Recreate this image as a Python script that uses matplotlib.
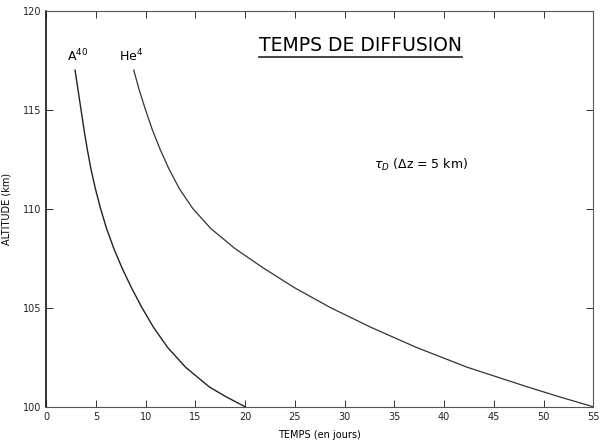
import numpy as np
import matplotlib
matplotlib.use("Agg")
import matplotlib.pyplot as plt
from matplotlib.lines import Line2D

# values: altitude (km) and temps (jours)
altitude = [117, 116, 115, 114, 113, 112, 111, 110, 109, 108, 107, 106, 105, 104, 103, 102, 101, 100.5, 100]
argon_t = [2.9, 3.2, 3.5, 3.8, 4.13, 4.5, 4.95, 5.47, 6.07, 6.79, 7.63, 8.58, 9.63, 10.8,
           12.2, 14.0, 16.4, 18.1, 20.0]
helium_t = [8.8, 9.35, 9.98, 10.66, 11.45, 12.35, 13.4, 14.75, 16.55, 18.95, 21.85, 25.0, 28.6,
            32.7, 37.2, 42.3, 48.4, 51.6, 55.0]

x_ticks = list(range(0, 60, 5))
y_ticks = [100, 105, 110, 115, 120]

fig = plt.figure(figsize=(6, 4.48), dpi=100)
ax = fig.add_axes([0.077, 0.092, 0.912, 0.884])

ax.plot(argon_t, altitude, color="#222222", lw=1.0, solid_joinstyle="round")
ax.plot(helium_t, altitude, color="#333333", lw=0.9, solid_joinstyle="round")

ax.text(argon_t[0] + 0.3, 117.3, r"A$^{40}$", ha="center", va="bottom", fontsize=9)
ax.text(helium_t[0] - 0.3, 117.3, r"He$^{4}$", ha="center", va="bottom", fontsize=9)

title = ax.text(31.6, 118.25, "TEMPS DE DIFFUSION", ha="center", va="center", fontsize=13.5)
ax.text(37.7, 112.2, r"$\tau_D$ ($\Delta$z = 5 km)", ha="center", va="center", fontsize=9)

ax.set_xlim(0, 55)
ax.set_ylim(100, 120)
ax.set_xticks(x_ticks)
ax.set_yticks(y_ticks)
ax.tick_params(direction="in", length=5, width=0.7, labelsize=7, top=True, right=True,
               colors="#333333", labelcolor="#222222")
ax.set_xlabel("TEMPS (en jours)", fontsize=7, labelpad=6)
ax.set_ylabel("ALTITUDE (km)", fontsize=7, labelpad=8)

for side in ["top", "bottom", "right"]:
    ax.spines[side].set_color("#555555")
    ax.spines[side].set_linewidth(0.8)
ax.spines["left"].set_color("#111111")
ax.spines["left"].set_linewidth(1.2)

# underline the title
fig.canvas.draw()
bb = title.get_window_extent()
inv = fig.transFigure.inverted()
(x0, y0), (x1, y1) = inv.transform([(bb.x0, bb.y0 - 2), (bb.x1, bb.y0 - 2)])
fig.add_artist(Line2D([x0, x1], [y0, y1], transform=fig.transFigure, color="#222222", lw=1.2))

fig.savefig("out.png", dpi=100)
